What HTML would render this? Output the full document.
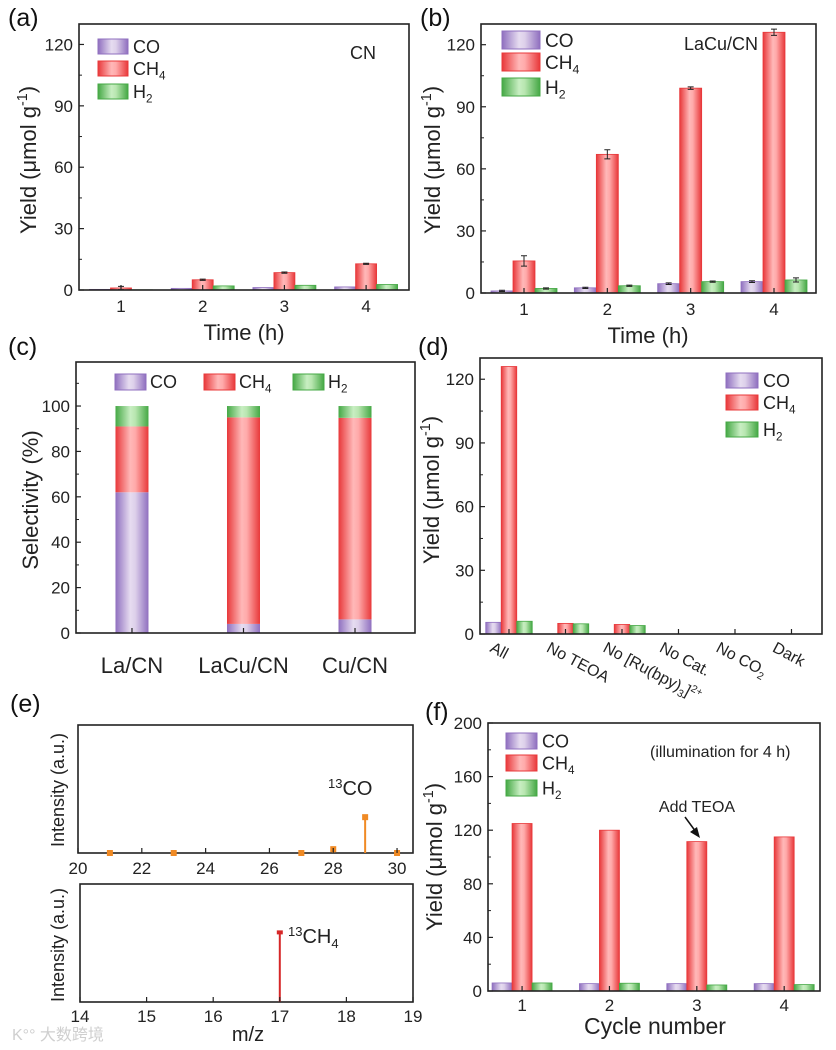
<!DOCTYPE html>
<html><head><meta charset="utf-8"><style>
html,body{margin:0;padding:0;background:#fff}
svg{display:block;font-family:"Liberation Sans","Noto Sans CJK SC",sans-serif}
</style></head><body>
<svg id="fig" width="836" height="1050" viewBox="0 0 836 1050" xmlns="http://www.w3.org/2000/svg">
<defs>
<linearGradient id="gCO" x1="0" x2="1" y1="0" y2="0"><stop offset="0" stop-color="#8f6fbf"/><stop offset="0.45" stop-color="#e6dcf0"/><stop offset="0.6" stop-color="#ddd0ea"/><stop offset="1" stop-color="#8f6fbf"/></linearGradient>
<linearGradient id="gCH4" x1="0" x2="1" y1="0" y2="0"><stop offset="0" stop-color="#e8383a"/><stop offset="0.45" stop-color="#ffb8b8"/><stop offset="0.6" stop-color="#ffaaaa"/><stop offset="1" stop-color="#e8383a"/></linearGradient>
<linearGradient id="gH2" x1="0" x2="1" y1="0" y2="0"><stop offset="0" stop-color="#45a845"/><stop offset="0.45" stop-color="#c8eec2"/><stop offset="0.6" stop-color="#b8e6b0"/><stop offset="1" stop-color="#45a845"/></linearGradient>
</defs>
</svg>
<script>
// ---------- data ----------
const seriesNames = ["CO","CH4","H2"];
const aCats = [1,2,3,4];
const aCO = [0.3,0.8,1.2,1.5];
const aCH4 = [1,5,8.5,12.8];
const aH2 = [0.1,2,2.3,2.7];
const aErrCH4 = [0.8,0.3,0.3,0.3];
const aYTicks = [0,30,60,90,120];

const bCats = [1,2,3,4];
const bCO = [1,2.5,4.5,5.5];
const bCH4 = [15.5,67,99,126];
const bH2 = [2.2,3.5,5.5,6.3];
const bErrCH4 = [2.5,2.2,0.6,1.5];
const bErrCO = [0.3,0.3,0.4,0.4];
const bErrH2 = [0.3,0.3,0.3,1];
const bYTicks = [0,30,60,90,120];

const cCats = ["La/CN","LaCu/CN","Cu/CN"];
const cCO = [62,4,6];
const cCH4 = [29,91,88.8];
const cH2 = [9,5,5.2];
const cYTicks = [0,20,40,60,80,100];

const dCats = ["All","No TEOA","No [Ru(bpy)3]2+","No Cat.","No CO2","Dark"];
const dCO = [5.5,0,0,0,0,0];
const dCH4 = [126,5,4.5,0,0,0];
const dH2 = [6,4.8,4,0,0,0];
const dYTicks = [0,30,60,90,120];

const eTopMz = [21,23,27,28,29,30];
const eTopI = [0,0,0,0.03,0.28,0];
const eTopTicks = [20,22,24,26,28,30];
const eBotMz = [17];
const eBotI = [0.59];
const eBotTicks = [14,15,16,17,18,19];

const fCats = [1,2,3,4];
const fCO = [6,5.5,5.5,5.5];
const fCH4 = [125,120,111.5,115];
const fH2 = [6,5.8,4.5,4.8];
const fYTicks = [0,40,80,120,160,200];

// ---------- helpers ----------
const svg = document.getElementById('fig');
const NS = "http://www.w3.org/2000/svg";
function mk(tag, attrs, parent){ const e=document.createElementNS(NS,tag); for(const k in attrs) e.setAttribute(k,attrs[k]); (parent||svg).appendChild(e); return e; }
function lin(d0,d1,r0,r1){ return v=>r0+(v-d0)*(r1-r0)/(d1-d0); }
const grads = ["url(#gCO)","url(#gCH4)","url(#gH2)"];
const edge = ["#8f6fbf","#e8383a","#45a845"];

function richText(x,y,parts,size,anchor,parent,name){
  const t = mk('text',{x:x,y:y,'font-size':size,'text-anchor':anchor||'start',fill:'#222'},parent);
  
  
  parts.forEach(p=>{
    const s = mk('tspan',{},t);
    if(p.sub){ s.setAttribute('font-size',size*0.65); s.setAttribute('dy',size*0.25); }
    else if(p.sup){ s.setAttribute('font-size',size*0.65); s.setAttribute('dy',-size*0.4); }
    else if(p.back){ s.setAttribute('dy',p.back); }
    s.textContent = p.t;
  });
  return t;
}
function specLabel(name){ return name==="CH4"?[{t:"CH"},{t:"4",sub:1}]:name==="H2"?[{t:"H"},{t:"2",sub:1}]:[{t:"CO"}]; }

function frame(box, name){
  const r = mk('rect',{x:box.x0,y:box.y0,width:box.x1-box.x0,height:box.y1-box.y0,fill:'none',stroke:'#222','stroke-width':1.6});
  
  
}
function yAxis(box, ys, ticks, minorStep, fmt){
  ticks.forEach(v=>{
    const y = ys(v);
    const l = mk('line',{x1:box.x0,x2:box.x0+5,y1:y,y2:y,stroke:'#222','stroke-width':1.2});
    
    
    const t = mk('text',{x:box.x0-6,y:y+6,'font-size':17,'text-anchor':'end',fill:'#222'});
    
    
    t.textContent = fmt?fmt(v):v;
  });
  if(minorStep){
    for(let v=ticks[0]+minorStep; ys(v)>box.y0; v+=minorStep*2){
      const y=ys(v);
      const l = mk('line',{x1:box.x0,x2:box.x0+3,y1:y,y2:y,stroke:'#222','stroke-width':1});
      
      
    }
  }
}
function yTitle(x,cy,parts,size,name){
  const g = mk('g',{transform:`translate(${x},${cy}) rotate(-90)`});
  
  
  richText(0,0,parts,size,'middle',g,name+'-text');
}
const yieldParts = [{t:"Yield (μmol g"},{t:"-1",sup:1},{t:")",back:8}];

function legend(x,ys,w,h,size,name){
  seriesNames.forEach((s,i)=>{
    const r = mk('rect',{x:x,y:ys[i],width:w,height:h,fill:grads[i],stroke:edge[i],'stroke-width':1});
    
    
    richText(x+w+5,ys[i]+h/2+size*0.36,specLabel(s),size,'start',svg,name+'-label-'+s.toLowerCase());
  });
}

function groupedBars(box, dom, ymax, series, w, cats, errs, prefix){
  const xs = lin(dom[0],dom[1],box.x0,box.x1);
  const ys = lin(0,ymax,box.y1,box.y0);
  cats.forEach((c,i)=>{
    const cx = xs(typeof c==='number'?c:i);
    series.forEach((arr,j)=>{
      const v = arr[i];
      const bx = cx + (j-1)*w - w/2;
      const y = ys(v);
      const r = mk('rect',{x:bx,y:y,width:w,height:Math.max(0,box.y1-y),fill:grads[j],stroke:edge[j],'stroke-width':0.8});
      
      
      if(errs && errs[j]){
        const e = errs[j][i], mx = bx+w/2;
        const el = mk('path',{d:`M${mx},${ys(v+e)}V${ys(v-e)}M${mx-3},${ys(v+e)}H${mx+3}M${mx-3},${ys(v-e)}H${mx+3}`,stroke:'#222','stroke-width':1,fill:'none'});
        
        
      }
    });
  });
  return {xs,ys};
}
function xTicksCats(box, xs, vals, labels, size, dy){
  vals.forEach((v,i)=>{
    const x = xs(v);
    const l = mk('line',{x1:x,x2:x,y1:box.y1,y2:box.y1-5,stroke:'#222','stroke-width':1.2});
    
    
    if(labels){
      const t = mk('text',{x:x,y:box.y1+dy,'font-size':size,'text-anchor':'middle',fill:'#222'});
      
      
      t.textContent = labels[i];
    }
  });
}
function panelLetter(x,y,s){
  const t = mk('text',{x:x,y:y,'font-size':25,fill:'#111'});
  
  
  t.textContent = '('+s+')';
}
function plainText(x,y,s,size,anchor,name){
  const t = mk('text',{x:x,y:y,'font-size':size,'text-anchor':anchor||'start',fill:'#222'});
  
  
  t.textContent = s;
  return t;
}

// ---------- panel (a) ----------
(function(){
  const box={x0:79,x1:409,y0:24,y1:290};
  const s = groupedBars(box,[0.486,4.525],130,[aCO,aCH4,aH2],21,aCats,[null,aErrCH4,null],'a');
  frame(box,'panel-a-frame');
  yAxis(box,s.ys,aYTicks,15);
  xTicksCats(box,s.xs,aCats,aCats,17,22);
  yTitle(36,160,yieldParts,22,'panel-a-y-title');
  plainText(244,340,'Time (h)',22,'middle','panel-a-x-title');
  legend(98,[39,61,84],30,15,18,'panel-a-legend');
  plainText(350,59,'CN',18,'start','panel-a-sample-label');
  panelLetter(8,26,'a');
})();

// ---------- panel (b) ----------
(function(){
  const box={x0:481,x1:816,y0:24,y1:293};
  const s = groupedBars(box,[0.484,4.504],130,[bCO,bCH4,bH2],22,bCats,[bErrCO,bErrCH4,bErrH2],'b');
  frame(box,'panel-b-frame');
  yAxis(box,s.ys,bYTicks,15);
  xTicksCats(box,s.xs,bCats,bCats,17,22);
  yTitle(440,160,yieldParts,22,'panel-b-y-title');
  plainText(648,343,'Time (h)',22,'middle','panel-b-x-title');
  legend(502,[31,53,78],38,18,19,'panel-b-legend');
  plainText(684,50,'LaCu/CN',18,'start','panel-b-sample-label');
  panelLetter(420,26,'b');
})();

// ---------- panel (c) ----------
(function(){
  const box={x0:76,x1:415,y0:362,y1:633};
  const xs = lin(-0.502,2.538,box.x0,box.x1);
  const ys = lin(0,119.4,box.y1,box.y0);
  const w=33;
  cCats.forEach((c,i)=>{
    let acc=0;
    [cCO,cCH4,cH2].forEach((arr,j)=>{
      const v=arr[i];
      const r = mk('rect',{x:xs(i)-w/2,y:ys(acc+v),width:w,height:ys(acc)-ys(acc+v),fill:grads[j]});
      
      
      acc+=v;
    });
  });
  frame(box,'panel-c-frame');
  yAxis(box,ys,cYTicks,10);
  xTicksCats(box,xs,[0,1,2],cCats,22,40);
  yTitle(38,500,[{t:'Selectivity (%)'}],22,'panel-c-y-title');
  [115,204,293].forEach((x,i)=>{
    const r = mk('rect',{x:x,y:374,width:31,height:16,fill:grads[i],stroke:edge[i],'stroke-width':1});
    
    
    richText(x+35,388,specLabel(seriesNames[i]),18,'start',svg,'panel-c-legend-label');
  });
  panelLetter(8,355,'c');
})();

// ---------- panel (d) ----------
(function(){
  const box={x0:480,x1:822,y0:358,y1:634};
  const s = groupedBars(box,[-0.513,5.54],130,[dCO,dCH4,dH2],15.5,dCats,null,'d');
  frame(box,'panel-d-frame');
  yAxis(box,s.ys,dYTicks,15);
  xTicksCats(box,s.xs,[0,1,2,3,4,5],null);
  const labs = [
    [{t:'All'}],
    [{t:'No TEOA'}],
    [{t:'No [Ru(bpy)'},{t:'3',sub:1},{t:']',back:-4},{t:'2+',sup:1}],
    [{t:'No Cat.'}],
    [{t:'No CO'},{t:'2',sub:1}],
    [{t:'Dark'}]
  ];
  labs.forEach((p,i)=>{
    const x=s.xs(i)-20;
    const g = mk('g',{transform:`translate(${x},${651}) rotate(28)`});
    
    
    richText(0,0,p,16,'start',g,'d-x-tick-label-text');
  });
  yTitle(439,490,yieldParts,22,'panel-d-y-title');
  legend(726,[373,395,422],32,15,18,'panel-d-legend');
  panelLetter(418,355,'d');
})();

// ---------- panel (e) ----------
(function(){
  const top={x0:78,x1:413,y0:725,y1:853};
  const xs = lin(20,30.5,top.x0,top.x1);
  const ys = lin(0,1,top.y1,top.y0);
  frame(top,'panel-e-top-frame');
  eTopMz.forEach((m,i)=>{
    const x=xs(m), y=ys(eTopI[i]);
    const l = mk('line',{x1:x,x2:x,y1:top.y1,y2:y,stroke:'#f08a24','stroke-width':2});
    
    
    const r = mk('rect',{x:x-3,y:y-3,width:6,height:6,fill:'#f08a24'});
    
    
  });
  xTicksCats(top,xs,eTopTicks,eTopTicks,17,21);
  richText(328,796,[{t:'13',sup:1},{t:'CO',back:7}],20,'start',svg,'e-13co-label');
  yTitle(64,790,[{t:'Intensity (a.u.)'}],18,'panel-e-top-y-title');

  const bot={x0:80,x1:413,y0:884,y1:1002};
  const xs2 = lin(14,19,bot.x0,bot.x1);
  const ys2 = lin(0,1,bot.y1,bot.y0);
  frame(bot,'panel-e-bottom-frame');
  eBotMz.forEach((m,i)=>{
    const x=xs2(m), y=ys2(eBotI[i]);
    const l = mk('line',{x1:x,x2:x,y1:bot.y1,y2:y,stroke:'#d62728','stroke-width':2});
    
    
    const r = mk('rect',{x:x-3,y:y-2,width:6,height:4,fill:'#d62728'});
    
    
  });
  xTicksCats(bot,xs2,eBotTicks,eBotTicks,17,20);
  richText(288,944,[{t:'13',sup:1},{t:'CH',back:7},{t:'4',sub:1}],20,'start',svg,'e-13ch4-label');
  yTitle(64,945,[{t:'Intensity (a.u.)'}],18,'panel-e-bottom-y-title');
  plainText(248,1041,'m/z',20,'middle','panel-e-x-title');
  const wm = mk('text',{x:12,y:1040,'font-size':16,fill:'#cfcfcf'});
  
  
  wm.textContent = 'K°° 大数跨境';
  panelLetter(10,712,'e');
})();

// ---------- panel (f) ----------
(function(){
  const box={x0:488,x1:820,y0:723,y1:991};
  const s = groupedBars(box,[0.61,4.41],200,[fCO,fCH4,fH2],20,fCats,null,'f');
  frame(box,'panel-f-frame');
  yAxis(box,s.ys,fYTicks,20);
  xTicksCats(box,s.xs,fCats,fCats,17,20);
  yTitle(442,857,yieldParts,22,'panel-f-y-title');
  plainText(655,1034,'Cycle number',23,'middle','panel-f-x-title');
  legend(506,[733,755,780],31,16,18,'panel-f-legend');
  plainText(650,757,'(illumination for 4 h)',16,'start','panel-f-note');
  plainText(697,812,'Add TEOA',16,'middle','panel-f-annotation');
  const a = mk('path',{d:'M685,817 L696,832',stroke:'#111','stroke-width':1.5,fill:'none'});
  
  
  const ah = mk('path',{d:'M700,838 L690,832 L697,827 Z',fill:'#111'});
  
  
  panelLetter(425,720,'f');
})();
</script>
</body></html>
